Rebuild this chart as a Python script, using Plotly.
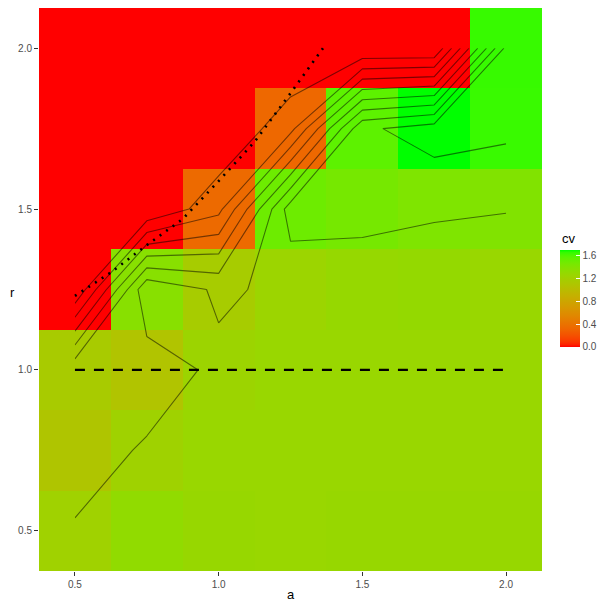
import plotly.graph_objects as go

# grid of parameter values
a_vals = [0.5, 0.75, 1.0, 1.25, 1.5, 1.75, 2.0]
r_vals = [0.5, 0.75, 1.0, 1.25, 1.5, 1.75, 2.0]

# cv on the (a, r) grid: one row per r value, one column per a value
cv = [
    [1.22, 1.32, 1.28, 1.27, 1.28, 1.28, 1.28],    # r = 0.50
    [1.095, 1.226, 1.27, 1.27, 1.27, 1.27, 1.27],  # r = 0.75
    [1.16, 1.08, 1.248, 1.27, 1.27, 1.27, 1.27],   # r = 1.00
    [0.0, 1.368, 1.166, 1.25, 1.29, 1.30, 1.27],   # r = 1.25
    [0.0, 0.0, 0.34, 1.50, 1.46, 1.42, 1.407],     # r = 1.50
    [0.0, 0.0, 0.0, 0.33, 1.56, 1.70, 1.645],      # r = 1.75
    [0.0, 0.0, 0.0, 0.0, 0.0, 0.0, 1.65],          # r = 2.00
]

# reference level r = 1
r_ref = 1.0

# boundary curve (dotted)
curve_a = [0.5, 0.625, 0.75, 0.875, 1.0, 1.125, 1.25, 1.363]
curve_r = [1.23, 1.303, 1.388, 1.469, 1.587, 1.709, 1.86, 2.0]

tick_vals = [0.5, 1.0, 1.5, 2.0]
tick_text = ["0.5", "1.0", "1.5", "2.0"]
cb_vals = [0.0, 0.4, 0.8, 1.2, 1.6]
cb_text = ["0.0", "0.4", "0.8", "1.2", "1.6"]


# red -> green gradient interpolated in CIELAB
def _to_lin(c):
    c = c / 255.0
    return c / 12.92 if c <= 0.04045 else ((c + 0.055) / 1.055) ** 2.4


def _from_lin(c):
    c = 12.92 * c if c <= 0.0031308 else 1.055 * c ** (1 / 2.4) - 0.055
    return max(0, min(255, round(c * 255)))


WHITE = (0.95047, 1.0, 1.08883)


def rgb_to_lab(rgb):
    r, g, b = (_to_lin(v) for v in rgb)
    X = (0.4124564 * r + 0.3575761 * g + 0.1804375 * b) / WHITE[0]
    Y = (0.2126729 * r + 0.7151522 * g + 0.0721750 * b) / WHITE[1]
    Z = (0.0193339 * r + 0.1191920 * g + 0.9503041 * b) / WHITE[2]

    def f(t):
        d = 6 / 29
        return t ** (1 / 3) if t > d ** 3 else t / (3 * d * d) + 4 / 29

    fx, fy, fz = f(X), f(Y), f(Z)
    return 116 * fy - 16, 500 * (fx - fy), 200 * (fy - fz)


def lab_to_rgb(L, a, b):
    fy = (L + 16) / 116
    fx = fy + a / 500
    fz = fy - b / 200

    def finv(t):
        d = 6 / 29
        return t ** 3 if t > d else 3 * d * d * (t - 4 / 29)

    X, Y, Z = finv(fx) * WHITE[0], finv(fy) * WHITE[1], finv(fz) * WHITE[2]
    r = 3.2404542 * X - 1.5371385 * Y - 0.4985314 * Z
    g = -0.9692660 * X + 1.8760108 * Y + 0.0415560 * Z
    bb = 0.0556434 * X - 0.2040259 * Y + 1.0572252 * Z
    return _from_lin(r), _from_lin(g), _from_lin(bb)


low = rgb_to_lab((255, 0, 0))
high = rgb_to_lab((0, 255, 0))
n = 40
colorscale = []
for i in range(n + 1):
    t = i / n
    lab = [lo + (hi - lo) * t for lo, hi in zip(low, high)]
    colorscale.append([t, "rgb(%d,%d,%d)" % lab_to_rgb(*lab)])

zmax = max(max(row) for row in cv)

fig = go.Figure()

fig.add_trace(go.Heatmap(
    x=a_vals, y=r_vals, z=cv,
    zmin=0.0, zmax=zmax,
    colorscale=colorscale,
    zsmooth=False,
    hoverinfo="skip",
    colorbar=dict(
        thickness=20, thicknessmode="pixels",
        len=97, lenmode="pixels",
        x=1.036, xanchor="left", xpad=0,
        y=0.4842, yanchor="middle", ypad=0,
        outlinewidth=0,
        tickmode="array", tickvals=cb_vals, ticktext=cb_text,
        ticks="inside", ticklen=4, tickcolor="white", tickwidth=1,
        tickfont=dict(family="Liberation Sans", size=10, color="#4D4D4D"),
    ),
))

fig.add_trace(go.Contour(
    x=a_vals, y=r_vals, z=cv,
    contours=dict(coloring="none", start=0.2, end=1.6, size=0.2),
    line=dict(color="rgba(0,0,0,0.5)", width=1.1, smoothing=0),
    showscale=False,
    hoverinfo="skip",
))

fig.add_trace(go.Scatter(
    x=[a_vals[0], a_vals[-1]], y=[r_ref, r_ref],
    mode="lines",
    line=dict(color="black", width=2.3, dash="10px,9px"),
    hoverinfo="skip", showlegend=False,
))

fig.add_trace(go.Scatter(
    x=curve_a, y=curve_r,
    mode="lines",
    line=dict(color="black", width=2.6, dash="2px,6px"),
    hoverinfo="skip", showlegend=False,
))

axis_common = dict(
    showgrid=False, zeroline=False, showline=False,
    ticks="outside", ticklen=4, tickwidth=1, tickcolor="#333333",
    tickfont=dict(family="Liberation Sans", size=10, color="#4D4D4D"),
    tickmode="array", tickvals=tick_vals, ticktext=tick_text,
    range=[0.375, 2.125], fixedrange=True,
)

fig.update_layout(
    width=598, height=604,
    margin=dict(l=39, r=56, t=8, b=33, autoexpand=False),
    paper_bgcolor="white", plot_bgcolor="#EBEBEB",
    showlegend=False,
    xaxis=axis_common,
    yaxis=axis_common,
    font=dict(family="Liberation Sans"),
    annotations=[
        dict(text="a", xref="paper", yref="paper", x=0.5, y=-0.0423,
             xanchor="center", yanchor="middle", showarrow=False,
             font=dict(family="Liberation Sans", size=13, color="black")),
        dict(text="r", xref="paper", yref="paper", x=-0.0517, y=0.495,
             xanchor="center", yanchor="middle", showarrow=False,
             font=dict(family="Liberation Sans", size=13, color="black")),
        dict(text="cv", xref="paper", yref="paper", x=1.0358, y=0.5897,
             xanchor="left", yanchor="middle", showarrow=False,
             font=dict(family="Liberation Sans", size=13, color="black")),
    ],
)

fig.write_html("out.html")
